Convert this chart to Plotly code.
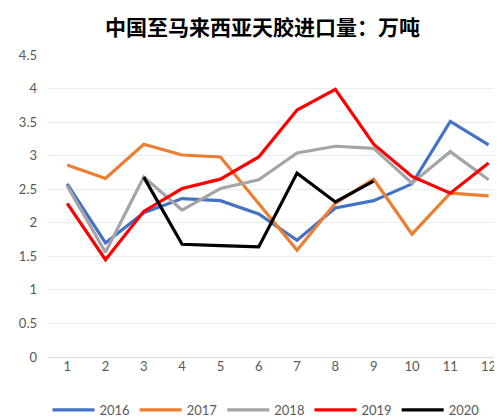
import plotly.graph_objects as go

months = list(range(1, 13))
month_labels = [str(m) for m in months]

s2016 = [2.58, 1.70, 2.15, 2.36, 2.33, 2.13, 1.74, 2.22, 2.33, 2.58, 3.51, 3.16]
s2017 = [2.86, 2.66, 3.17, 3.01, 2.98, 2.28, 1.59, 2.29, 2.65, 1.83, 2.44, 2.40]
s2018 = [2.55, 1.56, 2.68, 2.19, 2.51, 2.64, 3.04, 3.14, 3.11, 2.59, 3.06, 2.64]
s2019 = [2.29, 1.45, 2.17, 2.51, 2.65, 2.98, 3.68, 3.99, 3.17, 2.69, 2.44, 2.89]
s2020 = [None, None, 2.68, 1.68, 1.66, 1.64, 2.74, 2.31, 2.62, None, None, None]

series = [
    ("2016", s2016, "#4472C4"),
    ("2017", s2017, "#ED7D31"),
    ("2018", s2018, "#A5A5A5"),
    ("2019", s2019, "#FF0000"),
    ("2020", s2020, "#000000"),
]

fig = go.Figure()
for name, vals, color in series:
    fig.add_trace(go.Scatter(
        x=months, y=vals, name=name, mode="lines",
        line=dict(color=color, width=3.2),
        connectgaps=False,
    ))

font_fam = "Lato, 'Open Sans', sans-serif"
W, H = 494, 410
L, R, T, B = 40, 0, 47, 61
PW = W - L - R
PH = H - T - B

fig.update_layout(
    width=W, height=H,
    margin=dict(l=L, r=R, t=T, b=B, autoexpand=False),
    paper_bgcolor="white", plot_bgcolor="white",
    showlegend=True,
    font=dict(family=font_fam, size=13, color="#595959"),
    legend=dict(
        orientation="h", x=(258 - L) / PW, xanchor="center",
        y=-(402 - (T + PH)) / PH, yanchor="middle",
        font=dict(size=13, color="#595959"),
        itemwidth=42, tracegroupgap=0,
        bgcolor="rgba(0,0,0,0)",
    ),
    xaxis=dict(
        range=[0.5, 12.35], tickmode="array", tickvals=months, ticktext=month_labels,
        showgrid=False, zeroline=False, showline=False, ticks="",
        tickfont=dict(size=13, color="#595959"), automargin=False,
    ),
    yaxis=dict(
        range=[0, 4.5], dtick=0.5, showgrid=True, gridcolor="#EDEDED", gridwidth=1,
        zeroline=True, zerolinecolor="#D9D9D9", zerolinewidth=1,
        showline=False, ticks="", ticklabelstandoff=10,
        tickfont=dict(size=13, color="#595959"), automargin=False,
    ),
    annotations=[dict(
        text="<b>中国至马来西亚天胶进口量：万吨</b>",
        xref="paper", yref="paper", x=(254 - L) / PW, y=1.0, yanchor="top",
        yshift=T - 1, showarrow=False,
        font=dict(family="'Noto Sans CJK SC', sans-serif", size=21, color="#000000"),
    )],
)

fig.write_html("out.html")
